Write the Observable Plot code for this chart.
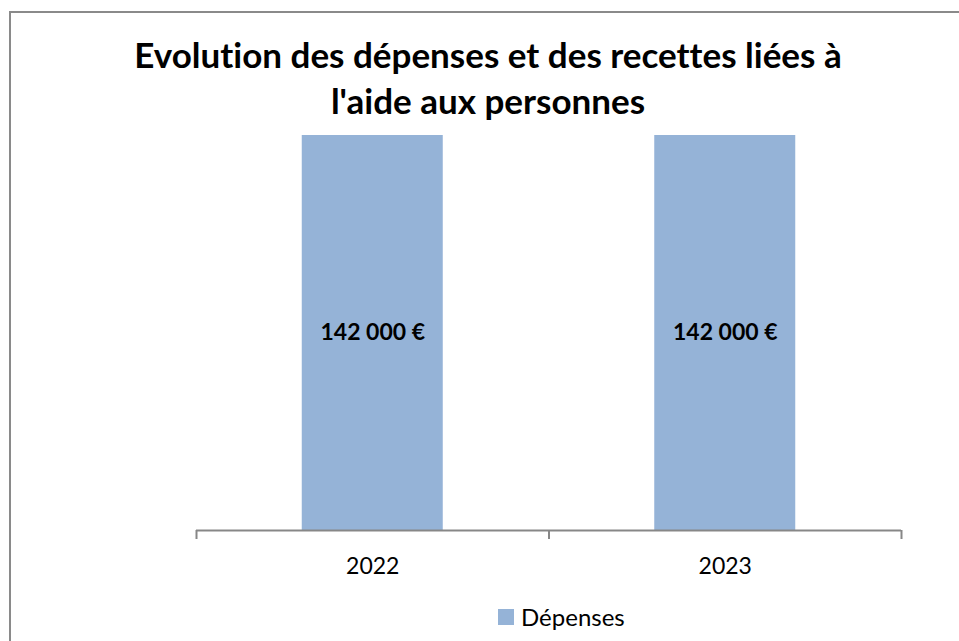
<!DOCTYPE html>
<html>
<head>
<meta charset="utf-8">
<script src="https://cdn.jsdelivr.net/npm/d3@7"></script>
<script src="https://cdn.jsdelivr.net/npm/@observablehq/plot@0.6"></script>
<style>
  html, body { margin: 0; padding: 0; background: #fff; }
  #chart { position: relative; width: 959px; height: 641px; overflow: hidden; font-family: Lato, "Open Sans", sans-serif; font-variant-ligatures: none; }
  #frame { position: absolute; left: 9px; top: 11px; width: 1100px; height: 800px; border: 2px solid #8a8a8a; box-sizing: border-box; }
  #title { position: absolute; left: 0; top: 31px; width: 976px; text-align: center; font-weight: 700; font-size: 35px; line-height: 46px; color: #000; }
  #plot { position: absolute; left: 0; top: 120px; }
  #legend { position: absolute; left: 498px; top: 602px; display: flex; align-items: center; font-size: 24px; color: #000; }
  #legend .sw { width: 16px; height: 16px; margin-right: 7px; }
</style>
</head>
<body>
<div id="chart">
  <div id="frame"></div>
  <div id="title"></div>
  <div id="plot"></div>
  <div id="legend"></div>
</div>
<script>
const titleLines = ["Evolution des dépenses et des recettes liées à", "l'aide aux personnes"];
const years = [2022, 2023];
const depenses = [142000, 142000];
const seriesName = "Dépenses";
const barColor = "#95B3D7";

const data = years.map((year, i) => ({year, value: depenses[i]}));

const fr = d3.formatLocale({decimal: ",", thousands: "\u00a0", grouping: [3], currency: ["", "\u00a0€"]});
const fmt = v => fr.format(",")(v) + "\u00a0€";

document.getElementById("title").innerHTML = titleLines.map(t => `<div>${t}</div>`).join("");

const half = 0.2;
const tickBounds = [years[0] - 0.5, ...years.map(y => y + 0.5)];

const chart = Plot.plot({
  width: 959,
  height: 470,
  marginTop: 15,
  marginBottom: 60,
  marginLeft: 196,
  marginRight: 58,
  style: {fontFamily: "Lato, 'Open Sans', sans-serif", fontSize: "23px", background: "transparent", color: "#000", fontVariantLigatures: "none"},
  x: {domain: [years[0] - 0.5, years[years.length - 1] + 0.5], label: null},
  y: {domain: [0, d3.max(depenses)], axis: null},
  marks: [
    Plot.rectY(data, {x1: d => d.year - half, x2: d => d.year + half, y: "value", fill: barColor}),
    Plot.text(data, {x: "year", y: d => d.value / 2, text: d => fmt(d.value), fontWeight: "bold", fontSize: 23, fill: "#000"}),
    Plot.ruleY([0], {stroke: "#878787", strokeWidth: 2}),
    Plot.axisX(tickBounds, {tickSize: 9, tickFormat: () => "", label: null, stroke: "#878787", strokeWidth: 2, strokeOpacity: 1}),
    Plot.axisX(years, {tickSize: 0, tickPadding: 27, tickFormat: d => String(d), label: null, fontSize: 23, fill: "#000"})
  ]
});
document.getElementById("plot").appendChild(chart);

document.getElementById("legend").innerHTML =
  `<div class="sw" style="background:${barColor}"></div><span>${seriesName}</span>`;
</script>
</body>
</html>
